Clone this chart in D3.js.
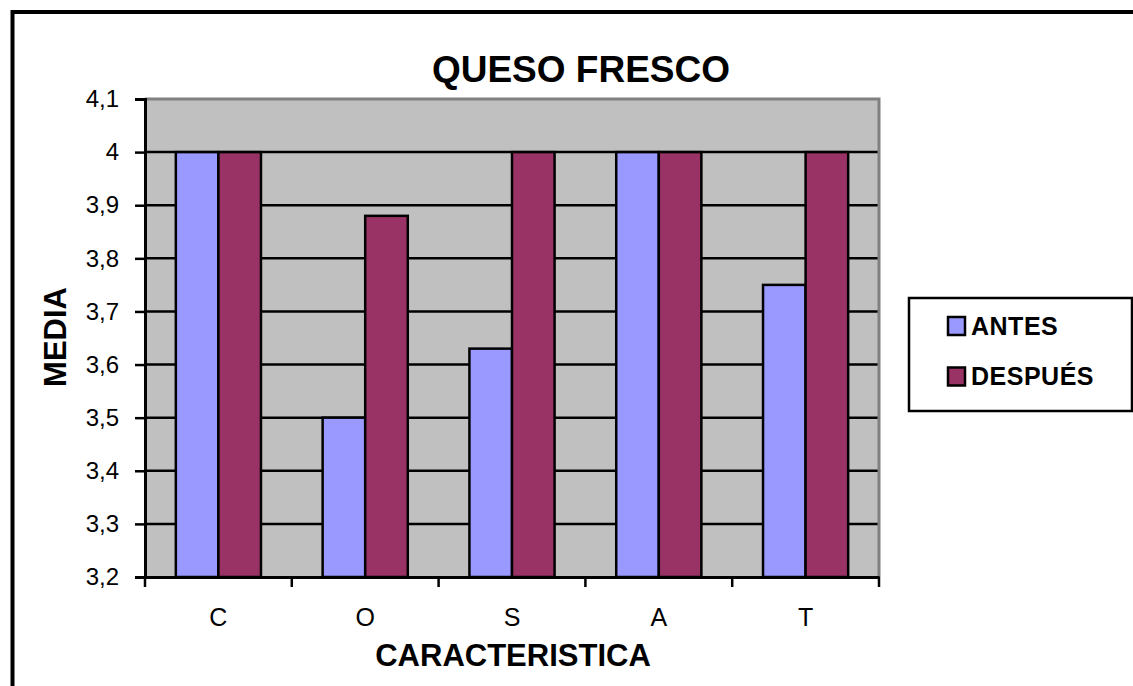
<!DOCTYPE html>
<html>
<head>
<meta charset="utf-8">
<script src="https://cdn.jsdelivr.net/npm/d3@7"></script>
<style>
  body { margin: 0; background: #fff; }
  text { font-family: "Liberation Sans", Arial, sans-serif; }
</style>
</head>
<body>
<div id="chart"></div>
<script>
// data
const categories = ['C', 'O', 'S', 'A', 'T']
const series = ['ANTES', 'DESPUÉS']
const antes = [4, 3.5, 3.63, 4, 3.75]
const despues = [4, 3.88, 4, 4, 4]
const yTicks = [3.2, 3.3, 3.4, 3.5, 3.6, 3.7, 3.8, 3.9, 4, 4.1]
const yTickLabels = ['3,2', '3,3', '3,4', '3,5', '3,6', '3,7', '3,8', '3,9', '4', '4,1']

const colors = { 'ANTES': '#9999ff', 'DESPUÉS': '#993366' }

// chart setting
const chart = {
  width: 1133,
  height: 686,
  left: 145,
  right: 879,
  top: 99,
  bottom: 577
}

const svg = d3.select('#chart')
  .append('svg')
    .attr('width', chart.width)
    .attr('height', chart.height)

// outer frame (runs off the right/bottom edge like the original)
svg.append('rect')
  .attr('x', 12.5).attr('y', 12)
  .attr('width', chart.width + 20).attr('height', chart.height + 20)
  .attr('fill', 'white')
  .attr('stroke', 'black')
  .attr('stroke-width', 4)

const x0 = d3.scaleBand()
  .domain(categories)
  .range([chart.left, chart.right])

const gap = x0.bandwidth() * 0.21
const x1 = d3.scaleBand()
  .domain(series)
  .range([gap, x0.bandwidth() - gap])

const y = d3.scaleLinear()
  .domain([3.2, 4.1])
  .range([chart.bottom, chart.top])

// plot area
svg.append('rect')
  .attr('x', chart.left).attr('y', chart.top)
  .attr('width', chart.right - chart.left)
  .attr('height', chart.bottom - chart.top)
  .attr('fill', '#c0c0c0')

// gridlines
svg.append('g')
  .selectAll('line')
  .data(yTicks.slice(1, -1))
  .join('line')
    .attr('x1', chart.left).attr('x2', chart.right)
    .attr('y1', d => y(d)).attr('y2', d => y(d))
    .attr('stroke', 'black')
    .attr('stroke-width', 2.5)

// top + right border of plot area
svg.append('path')
  .attr('d', `M${chart.left},${chart.top} H${chart.right} V${chart.bottom}`)
  .attr('fill', 'none')
  .attr('stroke', '#808080')
  .attr('stroke-width', 3)

// bars
const rows = categories.map((c, i) => ({ cat: c, values: [
  { key: 'ANTES', value: antes[i] },
  { key: 'DESPUÉS', value: despues[i] }
] }))

svg.append('g')
  .selectAll('g')
  .data(rows)
  .join('g')
    .attr('transform', d => `translate(${x0(d.cat)},0)`)
  .selectAll('rect')
  .data(d => d.values)
  .join('rect')
    .attr('x', d => x1(d.key))
    .attr('y', d => y(d.value))
    .attr('width', x1.bandwidth())
    .attr('height', d => y(3.2) - y(d.value))
    .attr('fill', d => colors[d.key])
    .attr('stroke', 'black')
    .attr('stroke-width', 2.5)

// y axis
const yAxis = svg.append('g')
  .attr('transform', `translate(${chart.left},0)`)
  .call(d3.axisLeft(y)
    .tickValues(yTicks)
    .tickFormat((d, i) => yTickLabels[i])
    .tickSize(10)
    .tickPadding(16))
yAxis.select('.domain').attr('stroke-width', 3)
yAxis.selectAll('.tick line').attr('stroke-width', 2.5)
yAxis.selectAll('.tick text')
  .attr('font-size', 24)
  .attr('font-family', '"Liberation Sans", Arial, sans-serif')
  .attr('fill', 'black')

// x axis
const xAxis = svg.append('g')
  .attr('transform', `translate(0,${chart.bottom})`)
  .call(d3.axisBottom(x0).tickSize(0).tickPadding(31))
xAxis.select('.domain').attr('stroke-width', 3)
xAxis.selectAll('.tick text')
  .attr('font-size', 25)
  .attr('font-family', '"Liberation Sans", Arial, sans-serif')
  .attr('fill', 'black')

// x tick marks at band edges
svg.append('g')
  .selectAll('line')
  .data(categories.concat(['end']))
  .join('line')
    .attr('x1', (d, i) => chart.left + i * x0.step())
    .attr('x2', (d, i) => chart.left + i * x0.step())
    .attr('y1', chart.bottom)
    .attr('y2', chart.bottom + 10)
    .attr('stroke', 'black')
    .attr('stroke-width', 2.5)

// titles
svg.append('text')
  .attr('x', 581).attr('y', 82)
  .attr('text-anchor', 'middle')
  .attr('font-size', 37)
  .attr('font-weight', 'bold')
  .text('QUESO FRESCO')

svg.append('text')
  .attr('x', 513).attr('y', 666)
  .attr('text-anchor', 'middle')
  .attr('font-size', 31)
  .attr('font-weight', 'bold')
  .text('CARACTERISTICA')

svg.append('text')
  .attr('transform', 'translate(66,337) rotate(-90)')
  .attr('text-anchor', 'middle')
  .attr('font-size', 31)
  .attr('font-weight', 'bold')
  .text('MEDIA')

// legend
const legend = svg.append('g')
legend.append('rect')
  .attr('x', 909).attr('y', 298)
  .attr('width', 223).attr('height', 113)
  .attr('fill', 'white')
  .attr('stroke', 'black')
  .attr('stroke-width', 2.5)

const items = legend.selectAll('g.item')
  .data(series)
  .join('g')
    .attr('class', 'item')
    .attr('transform', (d, i) => `translate(948,${317 + i * 50.5})`)
items.append('rect')
  .attr('width', 17).attr('height', 18)
  .attr('fill', d => colors[d])
  .attr('stroke', 'black')
  .attr('stroke-width', 2.5)
items.append('text')
  .attr('x', 23).attr('y', 17.5)
  .attr('font-size', 25)
  .attr('font-weight', 'bold')
  .attr('letter-spacing', 0.5)
  .text(d => d)
</script>
</body>
</html>
